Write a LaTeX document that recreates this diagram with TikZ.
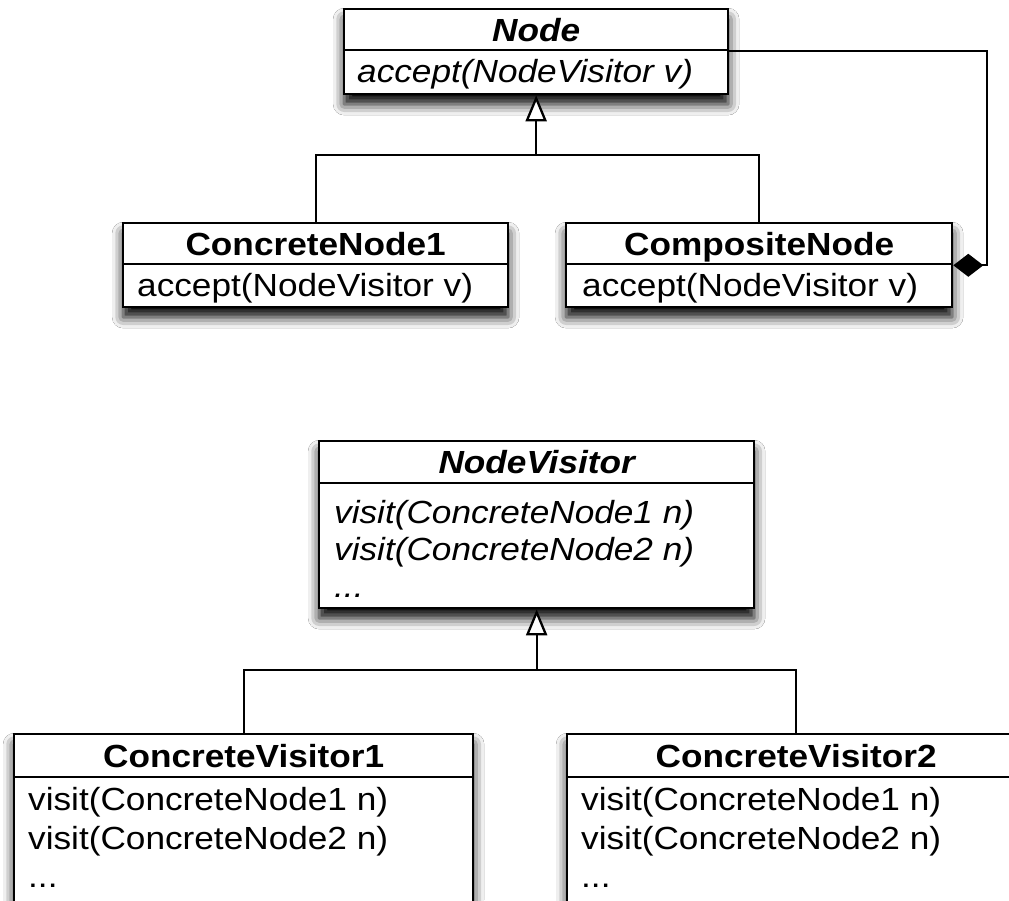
\documentclass[tikz,border=0pt]{standalone}
\usepackage{fontspec}
\setmainfont{Liberation Sans}[FakeStretch=1.1]
\usetikzlibrary{arrows.meta,shadows.blur}

\newcommand\umlsize{\fontsize{32}{38}\selectfont}

\tikzset{
  frame/.style={draw, line width=2.3pt, fill=white, inner sep=0pt, anchor=north west,
    blur shadow={shadow xshift=0pt, shadow yshift=-10pt, shadow blur radius=11pt, shadow opacity=100}},
  hdr/.style={draw, line width=2.3pt, fill=white, inner sep=0pt, anchor=north west,
    font=\umlsize\bfseries, text height=23pt, text depth=0pt},
  ahdr/.style={hdr, font=\umlsize\bfseries\itshape},
  member/.style={anchor=west, inner sep=0pt, font=\umlsize, text height=23pt, text depth=0pt},
  amember/.style={member, font=\umlsize\itshape},
  link/.style={line width=2.3pt},
  inherit/.style={link, -{Triangle[open, fill=white, length=26pt, width=21pt]}},
  compose/.style={link, {Diamond[length=30pt, width=23pt]}-},
}

\begin{document}
\begin{tikzpicture}[x=1pt, y=-1pt]
\useasboundingbox (0,0) rectangle (1009,900);
\fill[white] (0,0) rectangle (1009,900);
\clip (0,0) rectangle (1009,900);

% ---- element hierarchy ----
\node[frame, minimum width=384pt, minimum height=85pt] (node) at (343,8) {};
\node[ahdr, minimum width=384pt, minimum height=41pt] (nodeh) at (343,8) {Node};
\node[amember] (nodem1) at (357,71) {accept(NodeVisitor v)};

\node[frame, minimum width=385pt, minimum height=84pt] (cn1) at (122,222) {};
\node[hdr, minimum width=385pt, minimum height=41pt] (cn1h) at (122,222) {ConcreteNode1};
\node[member] (cn1m1) at (137,284.5) {accept(NodeVisitor v)};

\node[frame, minimum width=386pt, minimum height=84pt] (comp) at (565,222) {};
\node[hdr, minimum width=386pt, minimum height=41pt] (comph) at (565,222) {CompositeNode};
\node[member] (compm1) at (582,284.5) {accept(NodeVisitor v)};

% ---- visitor hierarchy ----
\node[frame, minimum width=435pt, minimum height=167pt] (nv) at (318,440) {};
\node[ahdr, minimum width=435pt, minimum height=42pt] (nvh) at (318,440) {NodeVisitor};
\node[amember] (nvm1) at (334,511.5) {visit(ConcreteNode1 n)};
\node[amember] (nvm2) at (334,548.5) {visit(ConcreteNode2 n)};
\node[amember] (nvm3) at (334,585.5) {...};

\node[frame, minimum width=459pt, minimum height=200pt] (cv1) at (13,733) {};
\node[hdr, minimum width=459pt, minimum height=43pt] (cv1h) at (13,733) {ConcreteVisitor1};
\node[member] (cv1m1) at (28,799) {visit(ConcreteNode1 n)};
\node[member] (cv1m2) at (28,837.5) {visit(ConcreteNode2 n)};
\node[member] (cv1m3) at (28,876) {...};

\node[frame, minimum width=458pt, minimum height=200pt] (cv2) at (566,733) {};
\node[hdr, minimum width=458pt, minimum height=43pt] (cv2h) at (566,733) {ConcreteVisitor2};
\node[member] (cv2m1) at (581,799) {visit(ConcreteNode1 n)};
\node[member] (cv2m2) at (581,837.5) {visit(ConcreteNode2 n)};
\node[member] (cv2m3) at (581,876) {...};

% ---- connectors ----
\coordinate (j1) at ([yshift=-60pt]node.south);
\draw[link] (cn1.north) |- (j1) -| (comp.north);
\draw[inherit] (j1) -- (node.south);

\draw[compose] (comph.south east) -- ++(34,0) |- (nodeh.south east);

\coordinate (j2) at ([yshift=-61pt]nv.south);
\draw[link] (cv1.north) |- (j2) -| (cv2.north);
\draw[inherit] (j2) -- (nv.south);
\end{tikzpicture}
\end{document}
